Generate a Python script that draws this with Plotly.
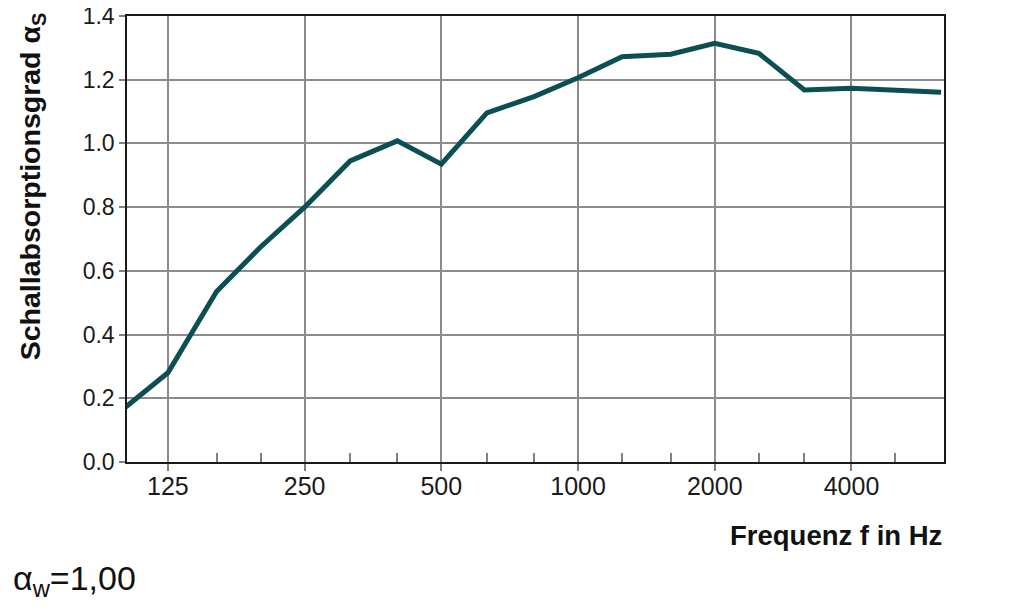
import math

import plotly.graph_objects as go


# ==========================================================
# DATA
# ==========================================================

frequencies = [100, 125, 160, 200, 250, 315, 400, 500, 630, 800,
               1000, 1250, 1600, 2000, 2500, 3150, 4000, 5000, 6300]

absorption = [0.168, 0.28, 0.535, 0.675, 0.80, 0.945, 1.008, 0.935, 1.096, 1.147,
              1.206, 1.272, 1.28, 1.314, 1.283, 1.168, 1.173, 1.166, 1.161]

major_ticks = [125, 250, 500, 1000, 2000, 4000]
minor_ticks = [160, 200, 315, 400, 630, 800, 1250, 1600, 2500, 3150, 5000]

y_ticks = [0.0, 0.2, 0.4, 0.6, 0.8, 1.0, 1.2, 1.4]


# ==========================================================
# ABSORPTION CURVE
# ==========================================================

def absorption_chart():

    fig = go.Figure(
        go.Scatter(
            x=frequencies,
            y=absorption,
            mode="lines",
            line={"color": "#0c4f53", "width": 5},
            hoverinfo="x+y"
        )
    )

    font = "Liberation Sans, Arial, Helvetica, sans-serif"

    # page body adds a small offset, margins compensate for it
    fig.update_layout(
        width=1031,
        height=612,
        margin={"l": 119, "r": 95, "t": 8, "b": 158},
        paper_bgcolor="white",
        plot_bgcolor="white",
        showlegend=False,
        font={"family": font, "color": "#1a1a1a"}
    )

    fig.update_xaxes(
        type="log",
        range=[math.log10(101.6), math.log10(6394)],
        tickvals=major_ticks,
        ticktext=[str(v) for v in major_ticks],
        tickfont={"size": 25},
        ticks="outside",
        ticklen=7,
        tickwidth=2,
        tickcolor="#808080",
        ticklabelstandoff=-6,
        ticklabeloverflow="allow",
        showgrid=True,
        gridcolor="#8c8c8c",
        gridwidth=2,
        showline=True,
        linecolor="#1a1a1a",
        linewidth=1.5,
        mirror=True,
        zeroline=False,
        automargin=False,
        minor={
            "tickvals": minor_ticks,
            "ticks": "inside",
            "ticklen": 9,
            "tickwidth": 2,
            "tickcolor": "#808080",
            "showgrid": False
        }
    )

    fig.update_yaxes(
        range=[0, 1.4],
        tickvals=y_ticks,
        tickformat=".1f",
        tickfont={"size": 23},
        ticks="outside",
        ticklen=6,
        tickwidth=1.5,
        tickcolor="#808080",
        ticklabeloverflow="allow",
        showgrid=True,
        gridcolor="#8c8c8c",
        gridwidth=1.5,
        showline=True,
        linecolor="#1a1a1a",
        linewidth=1.5,
        mirror=True,
        zeroline=False,
        automargin=False
    )

    # axis titles placed as annotations to match the original layout
    fig.add_annotation(
        text="<b>Schallabsorptionsgrad α<sub>S</sub></b>",
        textangle=-90,
        xref="paper", yref="paper",
        x=-0.116, y=0.224,
        xanchor="center", yanchor="bottom",
        showarrow=False,
        font={"size": 28.5, "color": "#111111"}
    )

    fig.add_annotation(
        text="<b>Frequenz f in Hz</b>",
        xref="paper", yref="paper",
        x=1.0, y=-0.164,
        xanchor="right", yanchor="middle",
        showarrow=False,
        font={"size": 27.5, "color": "#111111"}
    )

    fig.add_annotation(
        text="α<sub>w</sub>=1,00",
        xref="paper", yref="paper",
        x=-0.142, y=-0.265,
        xanchor="left", yanchor="middle",
        showarrow=False,
        font={"size": 34, "color": "#111111"}
    )

    return fig


fig = absorption_chart()
fig.write_html("out.html")
